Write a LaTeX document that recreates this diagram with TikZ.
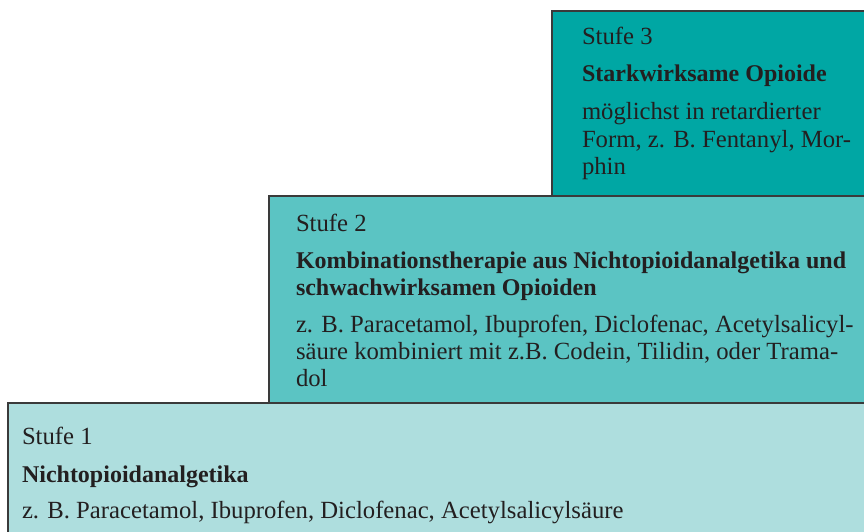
\documentclass[tikz,border=0pt]{standalone}
\usepackage{fontspec}
\setmainfont{Liberation Serif}
\definecolor{sthree}{HTML}{00A7A4}
\definecolor{stwo}{HTML}{5BC4C3}
\definecolor{sone}{HTML}{AEDEDE}
\definecolor{txt}{HTML}{231F20}
\definecolor{edgec}{HTML}{3A3A3A}
\begin{document}
\begin{tikzpicture}[x=1pt,y=-1pt,
  txtline/.style={anchor=base west, inner sep=0pt, outer sep=0pt, text=txt, font=\fontsize{24.7}{26.5}\selectfont},
  hdline/.style={anchor=base west, inner sep=0pt, outer sep=0pt, text=txt, font=\fontsize{24}{26.5}\selectfont\bfseries},
  border/.style={draw=edgec, line width=1.5pt}]
\useasboundingbox (0,0) rectangle (864,532);
\begin{scope}
\clip (0,0) rectangle (864,532);
\fill[sthree] (552,11) rectangle (880,195);
\fill[stwo] (269,196) rectangle (880,403);
\fill[sone] (8,403) rectangle (880,545);
\draw[border] (552,196) -- (552,11) -- (880,11);
\draw[border] (269,404) -- (269,196) -- (880,196);
\draw[border] (8,545) -- (8,403) -- (880,403);
\end{scope}
% Stufe 3
\node[txtline] (s3t) at (582,45) {Stufe 3};
\node[hdline] (s3h) at (582,82) {Starkwirksame Opioide};
\node[txtline] (s3a) at (582,120) {möglichst in retardierter};
\node[txtline] (s3b) at (582,147) {Form, z. B. Fentanyl, Mor-};
\node[txtline] (s3c) at (582,174) {phin};
% Stufe 2
\node[txtline] (s2t) at (296,231) {Stufe 2};
\node[hdline] (s2h1) at (296,268) {Kombinationstherapie aus Nichtopioidanalgetika und};
\node[hdline] (s2h2) at (296,295) {schwachwirksamen Opioiden};
\node[txtline] (s2a) at (296,332) {z. B. Paracetamol, Ibuprofen, Diclofenac, Acetylsalicyl-};
\node[txtline] (s2b) at (296,359) {säure kombiniert mit z.B. Codein, Tilidin, oder Trama-};
\node[txtline] (s2c) at (296,386) {dol};
% Stufe 1
\node[txtline] (s1t) at (22,444) {Stufe 1};
\node[hdline] (s1h) at (22,482) {Nichtopioidanalgetika};
\node[txtline] (s1a) at (22,518) {z. B. Paracetamol, Ibuprofen, Diclofenac, Acetylsalicylsäure};
\end{tikzpicture}
\end{document}
